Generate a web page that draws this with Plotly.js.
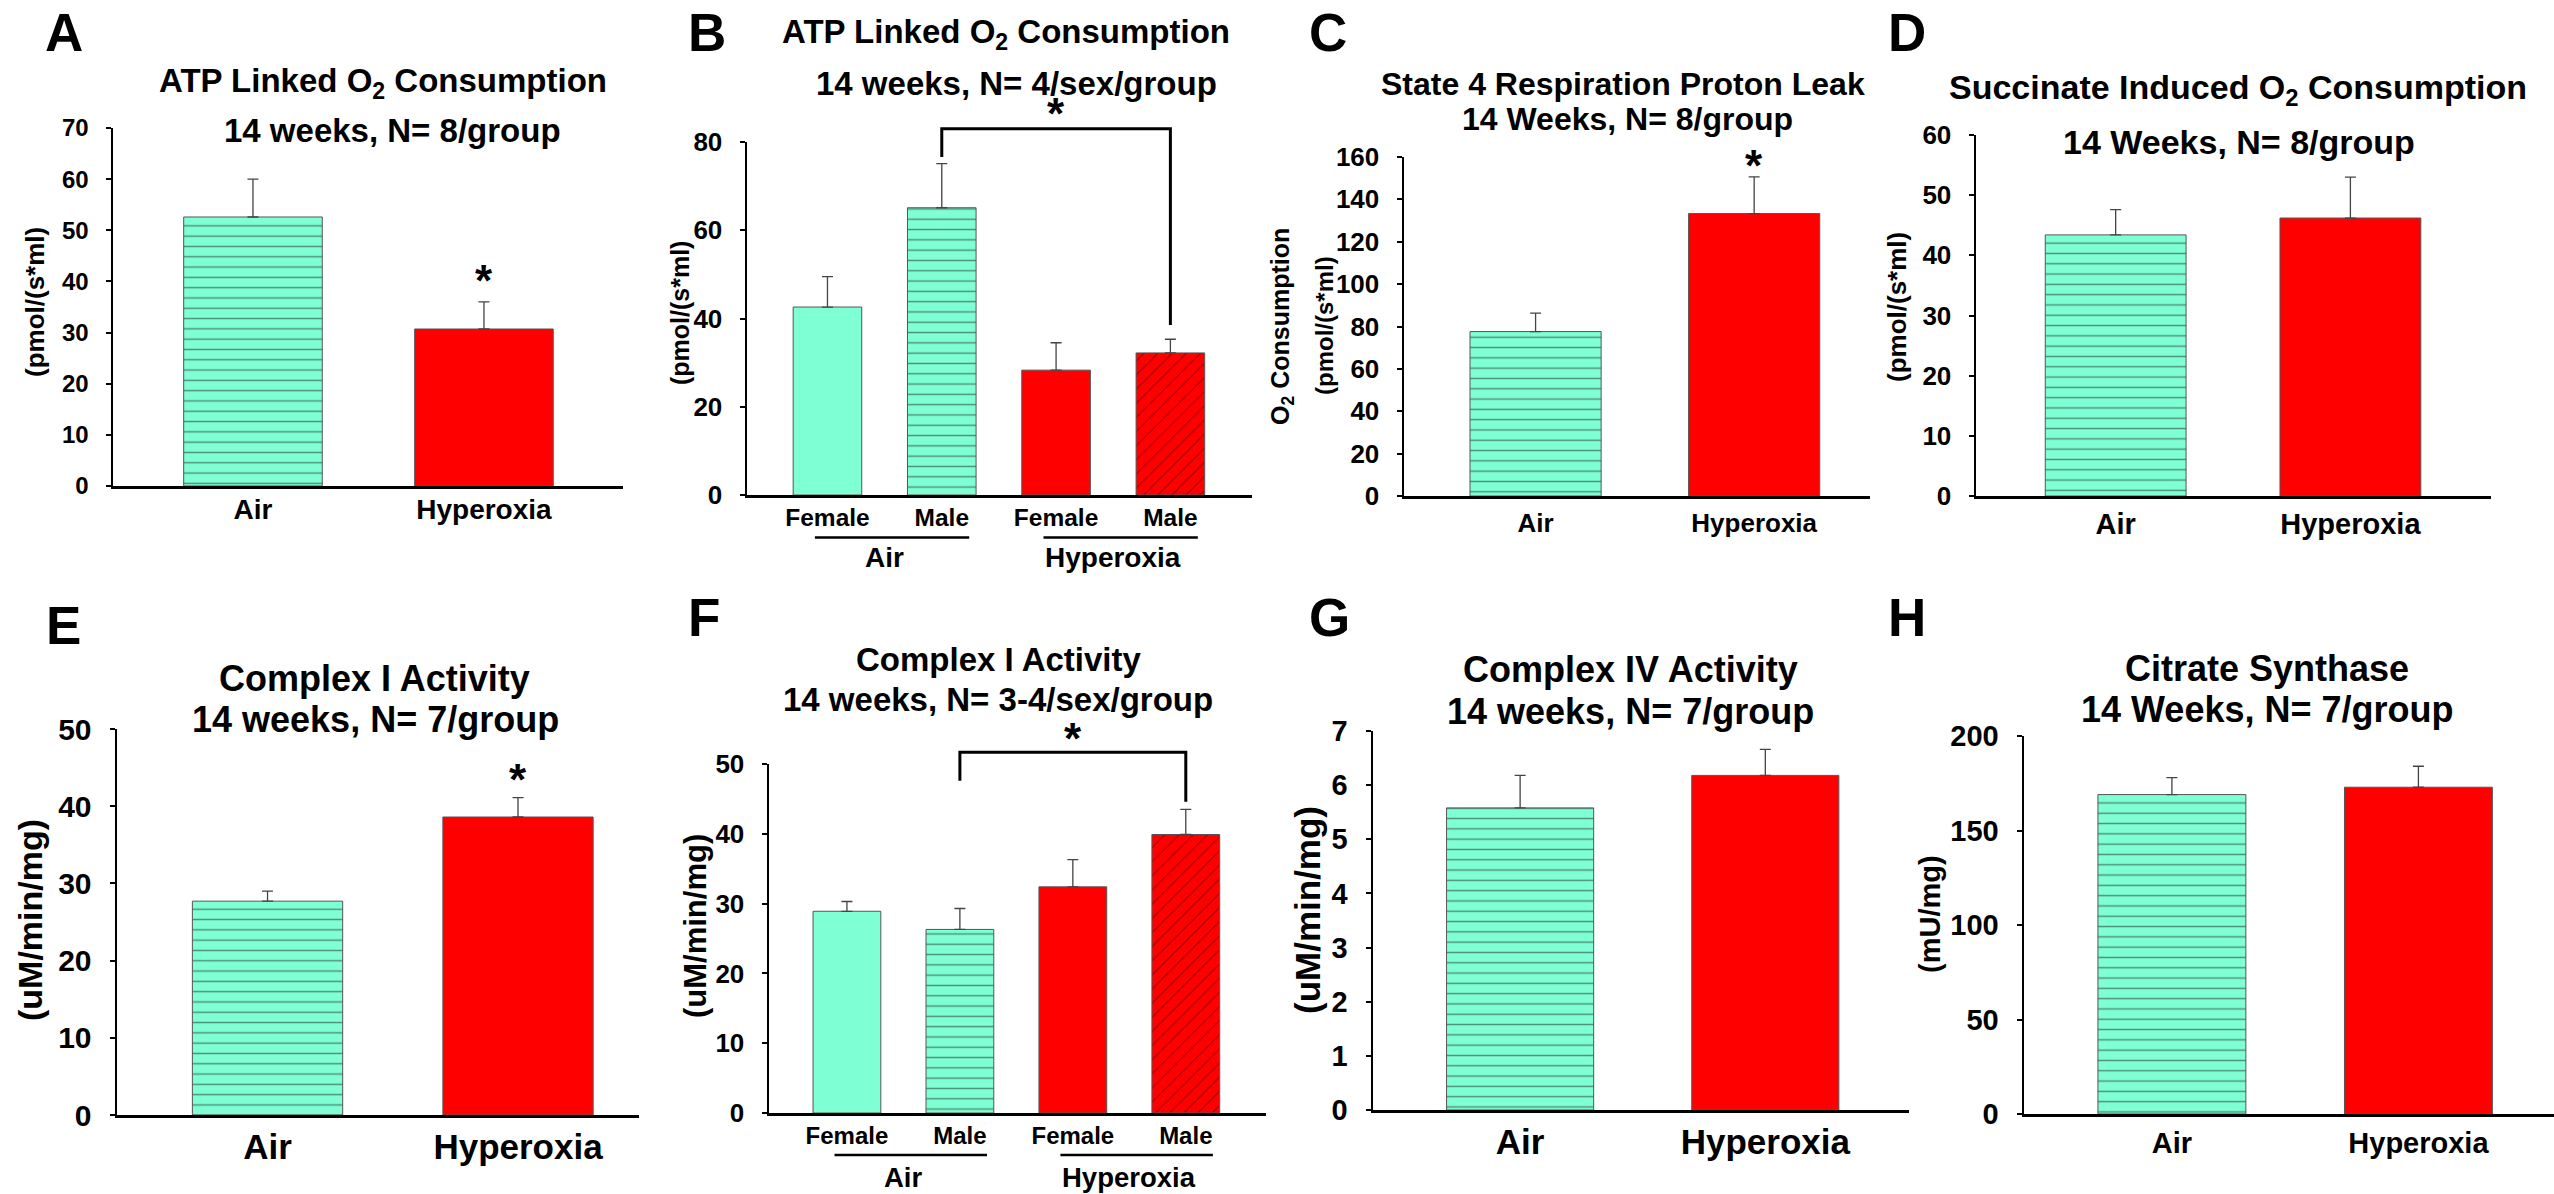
<!DOCTYPE html>
<html>
<head>
<meta charset="utf-8">
<script src="https://cdn.plot.ly/plotly-3.0.1.min.js"></script>
<style>
html, body { margin: 0; padding: 0; background: #ffffff; }
#chart { width: 2554px; height: 1194px; }
</style>
</head>
<body>
<div id="chart"></div>
<script>
// ---------------- DATA ----------------
const treatGroups = ['Air', 'Hyperoxia'];
const sexCats = ['Female', 'Male', 'Female', 'Male'];
const sexGroups = ['Air', 'Hyperoxia'];

// A: ATP linked O2 consumption, 14 weeks, N=8/group (pmol/(s*ml))
const atpMean = [52.6, 30.7];
const atpSem = [7.4, 5.3];
// B: ATP linked O2 consumption by sex (pmol/(s*ml))
const atpSexMean = [42.6, 65.1, 28.3, 32.2];
const atpSexSem = [6.9, 10.0, 6.2, 3.1];
// C: State 4 respiration proton leak (pmol/(s*ml))
const leakMean = [77.6, 133.3];
const leakSem = [8.7, 17.3];
// D: Succinate induced O2 consumption (pmol/(s*ml))
const succMean = [43.4, 46.2];
const succSem = [4.2, 6.8];
// E: Complex I activity (uM/min/mg)
const c1Mean = [27.7, 38.6];
const c1Sem = [1.3, 2.5];
// F: Complex I activity by sex (uM/min/mg)
const c1SexMean = [28.9, 26.3, 32.4, 39.9];
const c1SexSem = [1.4, 3.0, 3.9, 3.6];
// G: Complex IV activity (uM/min/mg)
const c4Mean = [5.58, 6.18];
const c4Sem = [0.60, 0.48];
// H: Citrate synthase (mU/mg)
const csMean = [169.0, 172.9];
const csSem = [9.0, 11.1];

// ---------------- STYLE / LAYOUT ----------------
const W = 2554, H = 1194;
const FONT = 'Liberation Sans, Arial, Helvetica, sans-serif';
const MINT = '#7FFFD4', RED = '#FF0000';

const barStyles = {
  treat: [
    { color: MINT, shape: '-', fg: '#1e1e1e', size: 10.3, solidity: 0.14 },
    { color: RED, shape: '', fg: '#000000', size: 10, solidity: 0.1 }
  ],
  sex: [
    { color: MINT, shape: '', fg: '#000000', size: 10, solidity: 0.1 },
    { color: MINT, shape: '-', fg: '#1e1e1e', size: 10.3, solidity: 0.14 },
    { color: RED, shape: '', fg: '#000000', size: 10, solidity: 0.1 },
    { color: RED, shape: '/', fg: '#300000', size: 10, solidity: 0.1 }
  ]
};

const panels = [
  { letter: 'A', letterPos: [64, 33], cats: treatGroups, means: atpMean, sems: atpSem, style: 'treat',
    xd: [113, 623], yd: [128, 486], ymax: 70, dtick: 10, xr: [-0.606, 1.602], ytf: 24, xtf: 28, xgap: -3,
    titles: [['ATP Linked O<sub>2</sub> Consumption', 383, 83], ['14 weeks, N= 8/group', 392, 130]], tfs: 33,
    ytitles: [['(pmol/(s*ml)', 35, 302, 26]], star: { idx: 1, shift: 21 } },
  { letter: 'B', letterPos: [707, 32], cats: sexCats, means: atpSexMean, sems: atpSexSem, style: 'sex',
    xd: [747, 1252], yd: [142, 495], ymax: 80, dtick: 20, xr: [-0.704, 3.714], ytf: 26, xtf: 24.5, xgap: -1,
    titles: [['ATP Linked O<sub>2</sub> Consumption', 1006, 33.5], ['14 weeks, N= 4/sex/group', 1016, 83.5]], tfs: 33,
    ytitles: [['(pmol/(s*ml)', 680, 313, 25]],
    groups: { underlineY: 537.5, labelY: 557, fs: 28 },
    bracket: { from: 1, to: 3, top: 83.0, left: 76.6, right: 38.5, shift: 5 } },
  { letter: 'C', letterPos: [1328, 33], cats: treatGroups, means: leakMean, sems: leakSem, style: 'treat',
    xd: [1404, 1870], yd: [157, 496], ymax: 160, dtick: 20, xr: [-0.602, 1.53], ytf: 26, xtf: 26, xgap: 2,
    titles: [['State 4 Respiration Proton Leak', 1623, 84], ['14 Weeks, N= 8/group', 1627, 119]], tfs: 32,
    ytitles: [['O<sub>2</sub> Consumption', 1282, 327, 25], ['(pmol/(s*ml)', 1324, 326, 24]], star: { idx: 1, shift: 11 } },
  { letter: 'D', letterPos: [1907, 33], cats: treatGroups, means: succMean, sems: succSem, style: 'treat',
    xd: [1976, 2491], yd: [135, 496], ymax: 60, dtick: 10, xr: [-0.595, 1.599], ytf: 26, xtf: 29, xgap: 1,
    titles: [['Succinate Induced O<sub>2</sub> Consumption', 2238, 90], ['14 Weeks, N= 8/group', 2239, 142]], tfs: 34,
    ytitles: [['(pmol/(s*ml)', 1897, 307, 26]] },
  { letter: 'E', letterPos: [63, 625], cats: treatGroups, means: c1Mean, sems: c1Sem, style: 'treat',
    xd: [117, 639], yd: [729, 1115], ymax: 50, dtick: 10, xr: [-0.601, 1.483], ytf: 30, xtf: 35, xgap: -1,
    titles: [['Complex I Activity', 375, 678], ['14 weeks, N= 7/group', 376, 719]], tfs: 36,
    ytitles: [['(uM/min/mg)', 30, 920, 34]], star: { idx: 1, shift: 18 } },
  { letter: 'F', letterPos: [704, 617], cats: sexCats, means: c1SexMean, sems: c1SexSem, style: 'sex',
    xd: [769, 1266], yd: [764, 1113], ymax: 50, dtick: 10, xr: [-0.69, 3.71], ytf: 26, xtf: 24, xgap: 0,
    titles: [['Complex I Activity', 998, 660], ['14 weeks, N= 3-4/sex/group', 998, 699]], tfs: 33,
    ytitles: [['(uM/min/mg)', 695, 926, 31]],
    groups: { underlineY: 1155, labelY: 1177, fs: 27.5 },
    bracket: { from: 1, to: 3, top: 51.7, left: 47.6, right: 44.6, shift: 4 } },
  { letter: 'G', letterPos: [1329, 617], cats: treatGroups, means: c4Mean, sems: c4Sem, style: 'treat',
    xd: [1373, 1909], yd: [731, 1110], ymax: 7, dtick: 1, xr: [-0.6, 1.586], ytf: 29, xtf: 35, xgap: -1,
    titles: [['Complex IV Activity', 1630, 670], ['14 weeks, N= 7/group', 1630, 711]], tfs: 36,
    ytitles: [['(uM/min/mg)', 1307, 910, 35]] },
  { letter: 'H', letterPos: [1907, 617], cats: treatGroups, means: csMean, sems: csSem, style: 'treat',
    xd: [2024, 2554], yd: [736, 1114], ymax: 200, dtick: 50, xr: [-0.6, 1.55], ytf: 29, xtf: 29, xgap: 2,
    titles: [['Citrate Synthase', 2267, 668], ['14 Weeks, N= 7/group', 2267, 709]], tfs: 36,
    ytitles: [['(mU/mg)', 1930, 914, 29]] }
];

function font(size) { return { family: FONT, size: size, color: '#000000', weight: 'bold' }; }
function paperAnn(text, px, py, size, extra) {
  return Object.assign({ text: text, x: px / W, y: 1 - py / H, xref: 'paper', yref: 'paper',
    xanchor: 'center', yanchor: 'middle', showarrow: false, font: font(size) }, extra || {});
}

const traces = [];
const layout = {
  width: W, height: H, margin: { l: 0, r: 0, t: 0, b: 0 },
  paper_bgcolor: '#ffffff', plot_bgcolor: 'rgba(0,0,0,0)',
  font: font(24), showlegend: false, barmode: 'overlay',
  annotations: [], shapes: []
};

panels.forEach(function (p, i) {
  const n = i + 1;
  const xid = n === 1 ? 'x' : 'x' + n;
  const yid = n === 1 ? 'y' : 'y' + n;
  const xa = n === 1 ? 'xaxis' : 'xaxis' + n;
  const ya = n === 1 ? 'yaxis' : 'yaxis' + n;
  const st = barStyles[p.style];
  const idx = p.cats.map(function (c, k) { return k; });
  const yDom = [1 - p.yd[1] / H, 1 - p.yd[0] / H];
  function yPaper(v) { return yDom[0] + (v / p.ymax) * (yDom[1] - yDom[0]); }

  idx.forEach(function (k) {
    const s = st[k];
    const marker = { color: s.color, line: { color: '#555555', width: 1 } };
    if (s.shape) {
      marker.pattern = { shape: s.shape, fgcolor: s.fg, bgcolor: s.color, size: s.size, solidity: s.solidity, fillmode: 'overlay' };
    }
    traces.push({
      type: 'bar', x: [idx[k]], y: [p.means[k]], xaxis: xid, yaxis: yid, width: 0.6,
      marker: marker,
      error_y: { type: 'data', symmetric: false, array: [p.sems[k]], arrayminus: [0],
        color: '#444444', thickness: 1.3, width: 5.5 },
      hoverinfo: 'skip', showlegend: false
    });
  });

  layout[xa] = {
    domain: [p.xd[0] / W, Math.min(1, p.xd[1] / W)], range: p.xr, anchor: yid,
    showline: true, linecolor: '#000000', linewidth: 2.5, ticks: '',
    tickmode: 'array', tickvals: idx, ticktext: p.cats, tickfont: font(p.xtf),
    ticklabelstandoff: p.xgap, showgrid: false, zeroline: false, fixedrange: true
  };
  layout[ya] = {
    domain: yDom, range: [0, p.ymax], anchor: xid,
    showline: true, linecolor: '#000000', linewidth: 2.5,
    ticks: 'outside', ticklen: 5, tickwidth: 2, tickcolor: '#000000',
    tick0: 0, dtick: p.dtick, tickfont: font(p.ytf), ticklabelstandoff: 12,
    showgrid: false, zeroline: false, fixedrange: true
  };

  // panel letter
  layout.annotations.push(paperAnn(p.letter, p.letterPos[0], p.letterPos[1], 53));
  // titles
  p.titles.forEach(function (t) { layout.annotations.push(paperAnn(t[0], t[1], t[2], p.tfs)); });
  // y-axis titles
  p.ytitles.forEach(function (t) { layout.annotations.push(paperAnn(t[0], t[1], t[2], t[3], { textangle: -90 })); });
  // significance star above a single bar
  if (p.star) {
    const k = p.star.idx;
    layout.annotations.push({ text: '*', xref: xid, yref: yid, x: idx[k], y: p.means[k] + p.sems[k],
      xanchor: 'center', yanchor: 'middle', yshift: p.star.shift, showarrow: false, font: font(44) });
  }
  // group underline + group labels for sex panels
  if (p.groups) {
    sexGroups.forEach(function (g, gi) {
      const members = idx.filter(function (k) { return Math.floor(k / 2) === gi; });
      const first = members[0], last = members[members.length - 1];
      layout.shapes.push({ type: 'line', xref: xid, yref: 'paper', x0: first - 0.11, x1: last + 0.24,
        y0: 1 - p.groups.underlineY / H, y1: 1 - p.groups.underlineY / H, line: { color: '#000000', width: 2.5 } });
      layout.annotations.push({ text: g, xref: xid, yref: 'paper', x: (first + last) / 2, y: 1 - p.groups.labelY / H,
        xanchor: 'center', yanchor: 'middle', showarrow: false, font: font(p.groups.fs) });
    });
  }
  // bracket comparison
  if (p.bracket) {
    const b = p.bracket;
    layout.shapes.push({ type: 'path', xref: xid, yref: 'paper',
      path: 'M ' + b.from + ',' + yPaper(b.left) + ' L ' + b.from + ',' + yPaper(b.top) +
            ' L ' + b.to + ',' + yPaper(b.top) + ' L ' + b.to + ',' + yPaper(b.right),
      line: { color: '#000000', width: 3 } });
    layout.annotations.push({ text: '*', xref: xid, yref: 'paper', x: (b.from + b.to) / 2, y: yPaper(b.top),
      xanchor: 'center', yanchor: 'middle', yshift: b.shift + 10, showarrow: false, font: font(44) });
  }
});

Plotly.newPlot('chart', traces, layout, { staticPlot: true, displayModeBar: false });
</script>
</body>
</html>
